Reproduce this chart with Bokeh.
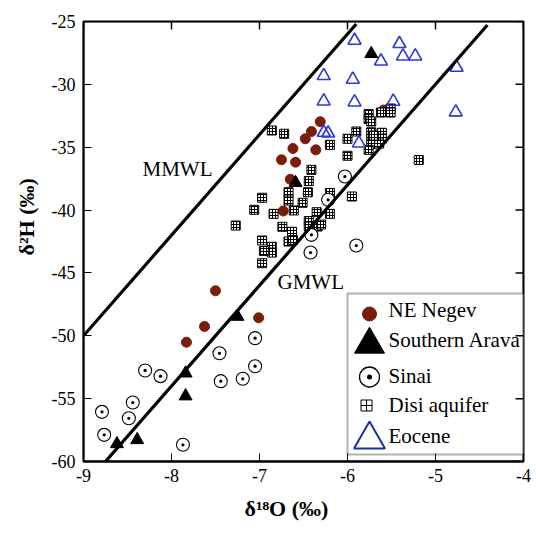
import numpy as np
from bokeh.plotting import figure
from bokeh.models import Range1d, FixedTicker, Label, BoxAnnotation, Title
from bokeh.embed import file_html
from bokeh.resources import INLINE

# ---------------- data ----------------
negev_d18o = [-6.31, -6.41, -6.48, -6.62, -6.36, -6.75, -6.59, -6.65, -6.73, -5.59,
              -7.50, -7.625, -7.83, -7.01]
negev_d2h = [-32.97, -33.75, -34.33, -35.10, -35.21, -36.00, -36.19, -37.55, -40.07, -32.04,
             -46.42, -49.26, -50.51, -48.57]

arava_d18o = [-5.73, -6.59, -7.25, -7.84, -7.84, -8.39, -8.62]
arava_d2h = [-27.57, -37.83, -48.47, -52.98, -54.80, -58.28, -58.60]

sinai_d18o = [-6.03, -6.22, -6.41, -6.42, -5.90, -7.05, -7.455, -7.05, -8.30, -8.125,
              -7.44, -7.19, -8.44, -8.79, -8.485, -8.765, -7.87]
sinai_d2h = [-37.33, -39.18, -41.97, -43.38, -42.82, -50.19, -51.39, -52.42, -52.76, -53.21,
             -53.61, -53.42, -55.31, -56.05, -56.56, -57.88, -58.67]

disi_d18o = [-6.86, -6.72, -6.20, -6.00, -5.90, -6.00, -5.19, -5.76, -5.76, -5.73,
             -5.62, -5.51, -5.51, -5.73, -5.61, -5.73, -5.61, -5.73, -5.64, -5.76,
             -5.70, -6.41, -6.44, -6.45, -6.97, -6.67, -6.67, -6.51, -6.20, -5.95,
             -7.06, -6.84, -6.61, -6.35, -6.20, -7.27, -6.74, -6.63, -6.44, -6.34,
             -6.30, -6.44, -6.97, -6.67, -6.62, -6.86, -6.86, -6.95, -6.97]
disi_d2h = [-33.67, -33.93, -34.81, -34.33, -33.75, -35.68, -36.02, -32.36, -32.76, -32.95,
            -32.24, -31.92, -32.24, -33.81, -33.85, -34.33, -34.31, -34.73, -34.70, -35.21,
            -34.07, -36.80, -37.69, -38.58, -39.02, -38.58, -39.24, -39.42, -38.64, -38.92,
            -39.98, -40.30, -40.03, -40.17, -40.30, -41.23, -41.33, -41.73, -40.87, -41.31,
            -41.15, -41.31, -42.42, -42.50, -42.38, -42.92, -43.38, -43.26, -44.23]

eocene_d18o = [-5.92, -5.41, -5.62, -5.37, -5.23, -4.76, -6.27, -5.94, -6.27, -5.92,
               -5.48, -4.77, -6.27, -6.22, -5.87]
eocene_d2h = [-26.51, -26.77, -28.16, -27.76, -27.76, -28.66, -29.32, -29.61, -31.34, -31.42,
              -31.36, -32.21, -33.83, -33.89, -34.68]

mmwl_x = [-9.0, -5.9]
mmwl_y = [-50.0, -25.2]
gmwl_x = [-8.75, -4.41]
gmwl_y = [-60.0, -25.28]

x_ticks = [-9, -8, -7, -6, -5, -4]
y_ticks = [-60, -55, -50, -45, -40, -35, -30, -25]

legend_labels = ["NE Negev", "Southern Arava", "Sinai", "Disi aquifer", "Eocene"]
x_title = "δ¹⁸O (‰)"
y_title = "δ²H (‰)"

# ---------------- layout ----------------
W, H = 536, 534
FL, FR, FT, FB = 83, 523, 21, 461
X0, X1, Y0, Y1 = -9.0, -4.0, -60.0, -25.0
TICK = 8  # px, inward


def sx(px):
    return X0 + (px - FL) / (FR - FL) * (X1 - X0)


def sy(py):
    return Y1 - (py - FT) / (FB - FT) * (Y1 - Y0)


SERIF = "Liberation Serif"
RED = "#7b1d0b"
BLUE = "#2a3ad6"

p = figure(width=W, height=H, x_range=Range1d(X0, X1), y_range=Range1d(Y0, Y1),
           output_backend="svg", toolbar_location=None,
           min_border_left=FL, min_border_right=W - FR,
           min_border_top=FT, min_border_bottom=H - FB)
p.grid.visible = False
p.background_fill_color = "white"
p.border_fill_color = "white"
p.outline_line_color = "black"
p.outline_line_width = 2

for ax, ticks in ((p.xaxis[0], x_ticks), (p.yaxis[0], y_ticks)):
    ax.ticker = FixedTicker(ticks=ticks)
    ax.major_label_overrides = {t: str(t) for t in ticks}
    ax.major_tick_in = TICK
    ax.major_tick_out = 0
    ax.minor_tick_line_color = None
    ax.axis_line_color = "black"
    ax.major_tick_line_color = "black"
    ax.major_tick_line_width = 1
    ax.major_label_text_font = SERIF
    ax.major_label_text_font_size = "18px"
    ax.major_label_text_color = "black"
p.xaxis[0].axis_line_width = 2
p.yaxis[0].axis_line_width = 1.5
p.xaxis[0].major_label_standoff = 7
p.yaxis[0].major_label_standoff = 8

# axis titles as side titles (allow exact placement)
p.add_layout(Title(text=x_title, align="left", offset=161, text_font=SERIF,
                   text_font_size="22px", text_font_style="bold", text_color="black",
                   standoff=18), "below")
p.add_layout(Title(text=y_title, align="left", offset=206, text_font=SERIF,
                   text_font_size="22px", text_font_style="bold", text_color="black",
                   standoff=20), "left")

# frame drawn as a box, plus mirrored inward ticks on the top and right edges
p.add_layout(BoxAnnotation(left=X0, right=X1, top=Y1, bottom=Y0, fill_alpha=0,
                           line_color="black", line_width=2, level="overlay"))
tx = (X1 - X0) / (FR - FL) * TICK
ty = (Y1 - Y0) / (FB - FT) * TICK
p.multi_line(xs=[[t, t] for t in x_ticks], ys=[[Y1, Y1 - ty] for _ in x_ticks],
             line_color="black", line_width=1.5)
p.multi_line(xs=[[X1, X1 - tx] for _ in y_ticks], ys=[[t, t] for t in y_ticks],
             line_color="black", line_width=1.5)

# ---------------- data marks ----------------
p.scatter(negev_d18o, negev_d2h, marker="circle", size=10, fill_color=RED,
          line_color=RED, line_width=1)
p.scatter(arava_d18o, arava_d2h, marker="triangle", size=13, fill_color="black",
          line_color="black", line_width=1)
p.scatter(disi_d18o, disi_d2h, marker="square", size=9, fill_color="white",
          line_color="black", line_width=1, hatch_pattern="+", hatch_scale=3,
          hatch_weight=1, hatch_color="black")
p.scatter(sinai_d18o, sinai_d2h, marker="circle_dot", size=13, fill_color="white",
          line_color="black", line_width=1.1)
p.scatter(eocene_d18o, eocene_d2h, marker="triangle", size=13, fill_color=None,
          line_color=BLUE, line_width=1.6)

p.line(mmwl_x, mmwl_y, line_color="black", line_width=3.2)
p.line(gmwl_x, gmwl_y, line_color="black", line_width=3.2)

p.add_layout(Label(x=sx(142), y=sy(180), text="MMWL", text_font=SERIF,
                   text_font_size="21px", text_color="black"))
p.add_layout(Label(x=sx(277), y=sy(293), text="GMWL", text_font=SERIF,
                   text_font_size="21px", text_color="black"))

# ---------------- legend ----------------
p.add_layout(BoxAnnotation(left=sx(347), right=sx(523), top=sy(293), bottom=sy(454),
                           fill_color="white", fill_alpha=1, line_color="black",
                           line_width=2, level="underlay"))
key_x = sx(369)
p.scatter([key_x], [sy(313.5)], marker="circle", size=14, fill_color=RED, line_color=RED)
p.scatter([key_x], [sy(344)], marker="triangle", size=30, fill_color="black",
          line_color="black")
p.scatter([key_x], [sy(376.5)], marker="circle_dot", size=20, fill_color="white",
          line_color="black", line_width=1.3)
p.scatter([sx(366)], [sy(405)], marker="square_cross", size=11, fill_color="white",
          line_color="black", line_width=1)
p.scatter([key_x], [sy(439)], marker="triangle", size=31, fill_color=None,
          line_color="#1f2fa0", line_width=2)

label_baselines = [321.5, 351, 387, 416, 447]
for txt, by in zip(legend_labels, label_baselines):
    p.add_layout(Label(x=sx(388), y=sy(by), text=txt, text_font=SERIF,
                       text_font_size="21px", text_color="black"))

open("out.html", "w").write(file_html(p, INLINE))
